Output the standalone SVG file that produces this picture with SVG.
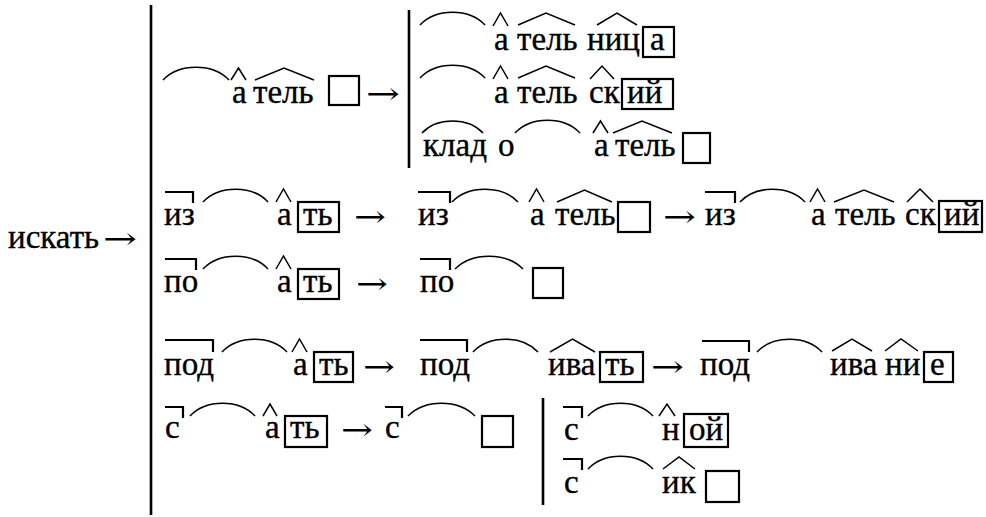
<svg xmlns="http://www.w3.org/2000/svg" width="986" height="517" viewBox="0 0 986 517">
<style>
text{font-family:'Liberation Serif','DejaVu Serif',serif;font-size:33px;fill:#000;stroke:#000;stroke-width:0.35}
text.ar{font-family:'DejaVu Serif','Liberation Serif',serif;font-size:30px;stroke:none}
.arc{fill:none;stroke:#000;stroke-width:1.6}
.hat{fill:none;stroke:#000;stroke-width:1.5;stroke-linejoin:miter}
.box{fill:none;stroke:#000;stroke-width:2.2}
.bar{fill:none;stroke:#000;stroke-width:2.6}
.pre{fill:none;stroke:#000;stroke-width:2.2}
</style>
<rect width="986" height="517" fill="#fff"/>

<g id="source">
<text x="8" y="248">искать</text>
<text class="ar" x="103" y="249" textLength="34" lengthAdjust="spacingAndGlyphs">→</text>
</g>

<g id="brackets">
<line class="bar" x1="151" y1="5" x2="151" y2="515"/>
<line class="bar" x1="409" y1="10" x2="409" y2="168"/>
<line class="bar" x1="543" y1="398" x2="543" y2="505"/>
</g>

<g id="row1">
<path class="arc" d="M163,80 C179,63 213,63 229,80"/>
<path class="hat" d="M231,80 L238.5,68 L246,80"/>
<text x="232" y="103">а</text>
<path class="hat" d="M255,80 L284,68 L314,80"/>
<text x="253" y="103">тель</text>
<rect class="box" x="329" y="76" width="30" height="29"/>
<text class="ar" x="366" y="104" textLength="34" lengthAdjust="spacingAndGlyphs">→</text>
</g>

<g id="rowA1">
<path class="arc" d="M420,25 C436,8 469,8 485,25"/>
<path class="hat" d="M493,26 L500.5,13 L508,26"/>
<text x="494" y="50">а</text>
<path class="hat" d="M518,25 L546,13 L575,25"/>
<text x="517" y="50">тель</text>
<path class="hat" d="M597,25 L617,13 L637,25"/>
<text x="587" y="50">ниц</text>
<rect class="box" x="643" y="27" width="31" height="30"/>
<text x="650" y="50">а</text>
</g>

<g id="rowA2">
<path class="arc" d="M420,78 C436,61 469,61 485,78"/>
<path class="hat" d="M493,79 L500.5,66 L508,79"/>
<text x="494" y="103">а</text>
<path class="hat" d="M518,78 L546,66 L575,78"/>
<text x="517" y="103">тель</text>
<path class="hat" d="M590,79 L602,66 L614,79"/>
<text x="589" y="103">ск</text>
<rect class="box" x="622" y="79" width="51" height="30"/>
<text x="627" y="103">ий</text>
</g>

<g id="rowA3">
<path class="arc" d="M422,133 C437,117 468,117 483,133"/>
<text x="423" y="156">клад</text>
<text x="498" y="156">о</text>
<path class="arc" d="M515,133 C531,116 564,116 580,133"/>
<path class="hat" d="M593,133 L600.5,121 L608,133"/>
<text x="594" y="156">а</text>
<path class="hat" d="M613,133 L642,121 L672,133"/>
<text x="615" y="156">тель</text>
<rect class="box" x="683" y="133" width="27" height="30"/>
</g>

<g id="rowB">
<path class="pre" d="M165,192 L193,192 L193,203"/>
<text x="164" y="225">из</text>
<path class="arc" d="M203,202 C219,185 252,185 268,202"/>
<path class="hat" d="M276,202 L283.5,189 L291,202"/>
<text x="277" y="225">а</text>
<rect class="box" x="298" y="202" width="41" height="30"/>
<text x="303" y="225">ть</text>
<text class="ar" x="354" y="227" textLength="32" lengthAdjust="spacingAndGlyphs">→</text>
<path class="pre" d="M418,192 L450,192 L450,203"/>
<text x="418" y="225">из</text>
<path class="arc" d="M452,202 C468,185 502,185 518,202"/>
<path class="hat" d="M529,202 L536.5,189 L544,202"/>
<text x="530" y="225">а</text>
<path class="hat" d="M557,202 L584.5,190 L612,202"/>
<text x="555" y="225">тель</text>
<rect class="box" x="618" y="202" width="32" height="30"/>
<text class="ar" x="663" y="227" textLength="33" lengthAdjust="spacingAndGlyphs">→</text>
<path class="pre" d="M705,192 L735,192 L735,203"/>
<text x="705" y="225">из</text>
<path class="arc" d="M740,202 C756,185 789,185 805,202"/>
<path class="hat" d="M810,202 L817.5,189 L825,202"/>
<text x="811" y="225">а</text>
<path class="hat" d="M834,202 L864,190 L894,202"/>
<text x="835" y="225">тель</text>
<path class="hat" d="M907,202 L920,189 L933,202"/>
<text x="905" y="225">ск</text>
<rect class="box" x="939" y="201" width="43" height="31"/>
<text x="944" y="225">ий</text>
</g>

<g id="rowC">
<path class="pre" d="M165,259 L196,259 L196,270"/>
<text x="164" y="292">по</text>
<path class="arc" d="M203,269 C219,252 252,252 268,269"/>
<path class="hat" d="M276,269 L283.5,256 L291,269"/>
<text x="277" y="292">а</text>
<rect class="box" x="298" y="269" width="41" height="30"/>
<text x="303" y="292">ть</text>
<text class="ar" x="356" y="294" textLength="32" lengthAdjust="spacingAndGlyphs">→</text>
<path class="pre" d="M420,259 L450,259 L450,270"/>
<text x="420" y="292">по</text>
<path class="arc" d="M455,269 C472,252 506,252 523,269"/>
<rect class="box" x="533" y="268" width="30" height="30"/>
</g>

<g id="rowD">
<path class="pre" d="M165,340 L213,340 L213,352"/>
<text x="164" y="375">под</text>
<path class="arc" d="M222,352 C238,335 271,335 287,352"/>
<path class="hat" d="M292,352 L299.5,339 L307,352"/>
<text x="293" y="375">а</text>
<rect class="box" x="314" y="352" width="39" height="30"/>
<text x="319" y="375">ть</text>
<text class="ar" x="363" y="377" textLength="32" lengthAdjust="spacingAndGlyphs">→</text>
<path class="pre" d="M420,340 L467,340 L467,352"/>
<text x="420" y="375">под</text>
<path class="arc" d="M473,352 C489,335 522,335 538,352"/>
<path class="hat" d="M550,352 L572.5,339 L595,352"/>
<text x="548" y="375">ива</text>
<rect class="box" x="600" y="352" width="43" height="30"/>
<text x="605" y="375">ть</text>
<text class="ar" x="651" y="377" textLength="33" lengthAdjust="spacingAndGlyphs">→</text>
<path class="pre" d="M702,341 L749,341 L749,352"/>
<text x="700" y="375">под</text>
<path class="arc" d="M757,352 C773,335 806,335 822,352"/>
<path class="hat" d="M832,351 L852,339 L872,351"/>
<text x="830" y="375">ива</text>
<path class="hat" d="M885,351 L901,339 L918,351"/>
<text x="885" y="375">ни</text>
<rect class="box" x="924" y="352" width="29" height="30"/>
<text x="930" y="375">е</text>
</g>

<g id="rowE">
<path class="pre" d="M165,407 L183,407 L183,418"/>
<text x="165" y="438">с</text>
<path class="arc" d="M190,416 C206,399 239,399 255,416"/>
<path class="hat" d="M263,416 L270,404 L277,416"/>
<text x="265" y="438">а</text>
<rect class="box" x="285" y="416" width="42" height="31"/>
<text x="290" y="438">ть</text>
<text class="ar" x="341" y="440" textLength="32" lengthAdjust="spacingAndGlyphs">→</text>
<path class="pre" d="M385,407 L402,407 L402,418"/>
<text x="385" y="438">с</text>
<path class="arc" d="M408,416 C425,399 458,399 475,416"/>
<rect class="box" x="482" y="416" width="31" height="31"/>
</g>

<g id="rowE2">
<path class="pre" d="M563,407 L582,407 L582,418"/>
<text x="564" y="440">с</text>
<path class="arc" d="M588,416 C604,399 637,399 653,416"/>
<path class="hat" d="M659,416 L667,404 L675,416"/>
<text x="662" y="440">н</text>
<rect class="box" x="684" y="414" width="44" height="33"/>
<text x="689" y="440">ой</text>
</g>

<g id="rowF">
<path class="pre" d="M563,459 L582,459 L582,470"/>
<text x="564" y="493">с</text>
<path class="arc" d="M588,469 C604,452 637,452 653,469"/>
<path class="hat" d="M663,469 L679,457 L695,469"/>
<text x="662" y="493">ик</text>
<rect class="box" x="706" y="471" width="33" height="31"/>
</g>
</svg>
